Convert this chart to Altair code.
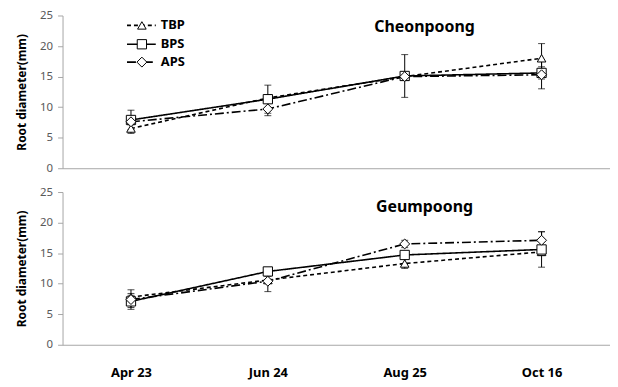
import altair as alt
import pandas as pd

dates = ["Apr 23", "Jun 24", "Aug 25", "Oct 16"]
series = ["TBP", "BPS", "APS"]
panels = ["Cheonpoong", "Geumpoong"]

# Cheonpoong
c_tbp = [6.5, 11.5, 15.0, 18.0]
c_tbp_err = [0.8, 0.5, 0.6, 2.4]
c_bps = [7.9, 11.3, 15.1, 15.6]
c_bps_err = [1.6, 2.3, 3.5, 1.0]
c_aps = [7.6, 9.7, 15.0, 15.3]
c_aps_err = [0.5, 1.1, 0.5, 2.3]

# Geumpoong
g_tbp = [7.8, 10.6, 13.3, 15.2]
g_tbp_err = [0.6, 0.6, 0.8, 0.6]
g_bps = [7.1, 12.0, 14.7, 15.6]
g_bps_err = [1.0, 0.5, 0.5, 2.9]
g_aps = [7.4, 10.4, 16.5, 17.1]
g_aps_err = [1.6, 1.7, 0.6, 1.4]

y_ticks = [0, 5, 10, 15, 20, 25]

rows = []
for panel, sets in [
    ("Cheonpoong", [("TBP", c_tbp, c_tbp_err), ("BPS", c_bps, c_bps_err), ("APS", c_aps, c_aps_err)]),
    ("Geumpoong", [("TBP", g_tbp, g_tbp_err), ("BPS", g_bps, g_bps_err), ("APS", g_aps, g_aps_err)]),
]:
    for s, vals, errs in sets:
        for d, v, e in zip(dates, vals, errs):
            rows.append({"panel": panel, "series": s, "date": d, "value": v,
                         "lo": v - e, "hi": v + e})
df = pd.DataFrame(rows)

dash_scale = alt.Scale(domain=series, range=[[4, 3], [1, 0], [9, 3, 2, 3]])
shape_scale = alt.Scale(domain=series, range=["triangle-up", "square", "diamond"])
size_scale = alt.Scale(domain=series, range=[75, 100, 70])
legend_size_scale = alt.Scale(domain=series, range=[50, 70, 45])

# legend layout (pixels inside the top panel)
legend_df = pd.DataFrame({
    "series": series,
    "lx1": [65, 65, 65],
    "lx2": [94, 94, 94],
    "lxm": [80, 80, 80],
    "ltx": [99, 99, 99],
    "ly": [10, 29, 47],
})

W, H = 552, 154
FONT = "Noto Sans"


def panel_chart(name, show_labels, title_y):
    data = df[df.panel == name]
    if show_labels:
        xaxis = alt.Axis(title=None, ticks=False, labelPadding=22, labelFontSize=13,
                         labelFontWeight="bold", labelColor="black", labelAngle=0,
                         domainColor="#a6a6a6", grid=False)
    else:
        xaxis = alt.Axis(title=None, ticks=False, labels=False,
                         domainColor="#a6a6a6", grid=False)
    x = alt.X("date:N", sort=dates,
              scale=alt.Scale(type="point", domain=dates, padding=0.5), axis=xaxis)
    y_scale = alt.Scale(domain=[0, 25], nice=False)
    yaxis = alt.Axis(values=y_ticks, title="Root diameter(mm)", grid=False,
                     labelOverlap=False,
                     domainColor="#a6a6a6", tickColor="#a6a6a6", tickSize=5,
                     labelColor="#595959", labelFontSize=11.5, labelPadding=5,
                     titleFontSize=12, titleFontWeight="bold", titleColor="black",
                     titlePadding=11)
    y = alt.Y("value:Q", scale=y_scale, axis=yaxis)
    base = alt.Chart(data)
    lines = base.mark_line(color="black", strokeWidth=1.6).encode(
        x=x, y=y, detail="series:N",
        strokeDash=alt.StrokeDash("series:N", scale=dash_scale, legend=None))
    err = base.mark_rule(color="black", strokeWidth=1).encode(
        x=x, y=alt.Y("lo:Q", scale=y_scale, axis=yaxis), y2="hi:Q")
    cap_lo = base.mark_tick(color="black", thickness=1, size=7).encode(
        x=x, y=alt.Y("lo:Q", scale=y_scale, axis=yaxis))
    cap_hi = base.mark_tick(color="black", thickness=1, size=7).encode(
        x=x, y=alt.Y("hi:Q", scale=y_scale, axis=yaxis))
    pts = base.mark_point(filled=True, fill="white", stroke="black", strokeWidth=1,
                          opacity=1).encode(
        x=x, y=y,
        shape=alt.Shape("series:N", scale=shape_scale, legend=None),
        size=alt.Size("series:N", scale=size_scale, legend=None))
    title = alt.Chart(pd.DataFrame({"t": [name]})).mark_text(
        fontSize=16, fontWeight="bold", color="black", align="center", baseline="middle"
    ).encode(text="t:N", x=alt.value(365), y=alt.value(title_y))
    layers = [lines, err, cap_lo, cap_hi, pts, title]
    return alt.layer(*layers).properties(width=W, height=H)


top = panel_chart("Cheonpoong", False, 12)

lg = alt.Chart(legend_df)
lg_rule = lg.mark_rule(color="black", strokeWidth=1.6).encode(
    x=alt.X("lx1:Q", scale=None, axis=None), x2="lx2:Q",
    y=alt.Y("ly:Q", scale=None, axis=None),
    strokeDash=alt.StrokeDash("series:N", scale=dash_scale, legend=None))
lg_pt = lg.mark_point(filled=True, fill="white", stroke="black", strokeWidth=1,
                      opacity=1).encode(
    x=alt.X("lxm:Q", scale=None, axis=None), y=alt.Y("ly:Q", scale=None, axis=None),
    shape=alt.Shape("series:N", scale=shape_scale, legend=None),
    size=alt.Size("series:N", scale=legend_size_scale, legend=None))
lg_txt = lg.mark_text(align="left", baseline="middle", fontSize=13, fontWeight="bold",
                      color="black").encode(
    x=alt.X("ltx:Q", scale=None, axis=None), y=alt.Y("ly:Q", scale=None, axis=None),
    text="series:N")

top = alt.layer(top, lg_rule, lg_pt, lg_txt)
bottom = panel_chart("Geumpoong", True, 15)

chart = alt.vconcat(top, bottom, spacing=12).properties(
    padding={"left": 7, "top": 0, "right": 0, "bottom": 3}
).configure(font=FONT).configure_view(stroke=None)

chart.save("out.html", embed_options={"renderer": "svg", "actions": False})
